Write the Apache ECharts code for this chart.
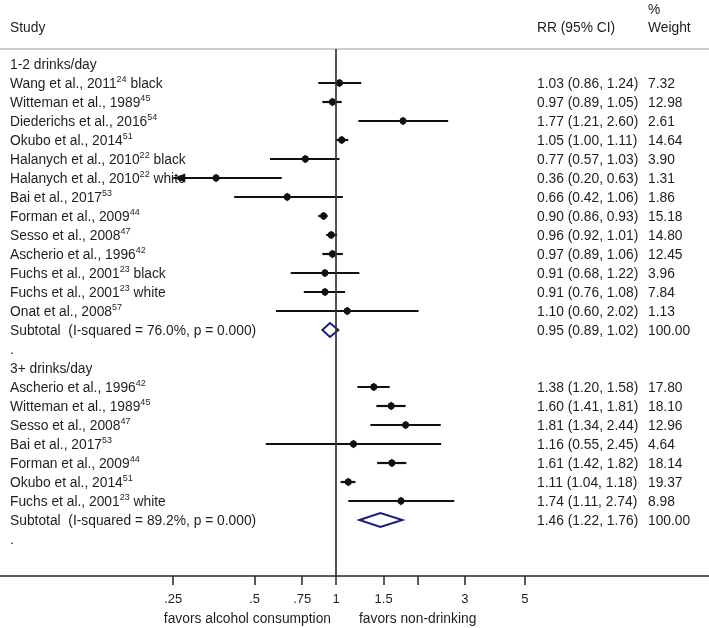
<!DOCTYPE html>
<html><head><meta charset="utf-8">
<script src="https://cdn.jsdelivr.net/npm/echarts@6/dist/echarts.min.js"></script>
<style>html,body{margin:0;padding:0;background:#fff}#c{width:709px;height:628px}</style>
</head><body><div id="c"></div>
<script>
// ---------------- data ----------------
const group1Title = '1-2 drinks/day';
const group1Studies = [
  'Wang et al., 2011{s|24} black',
  'Witteman et al., 1989{s|45}',
  'Diederichs et al., 2016{s|54}',
  'Okubo et al., 2014{s|51}',
  'Halanych et al., 2010{s|22} black',
  'Halanych et al., 2010{s|22} white',
  'Bai et al., 2017{s|53}',
  'Forman et al., 2009{s|44}',
  'Sesso et al., 2008{s|47}',
  'Ascherio et al., 1996{s|42}',
  'Fuchs et al., 2001{s|23} black',
  'Fuchs et al., 2001{s|23} white',
  'Onat et al., 2008{s|57}'
];
const group1RR     = [1.03, 0.97, 1.77, 1.05, 0.77, 0.36, 0.66, 0.90, 0.96, 0.97, 0.91, 0.91, 1.10];
const group1Lo     = [0.86, 0.89, 1.21, 1.00, 0.57, 0.20, 0.42, 0.86, 0.92, 0.89, 0.68, 0.76, 0.60];
const group1Hi     = [1.24, 1.05, 2.60, 1.11, 1.03, 0.63, 1.06, 0.93, 1.01, 1.06, 1.22, 1.08, 2.02];
const group1Weight = [7.32, 12.98, 2.61, 14.64, 3.90, 1.31, 1.86, 15.18, 14.80, 12.45, 3.96, 7.84, 1.13];
const group1Pooled = [0.95, 0.89, 1.02];
const group1Het    = ['76.0%', '0.000'];

const group2Title = '3+ drinks/day';
const group2Studies = [
  'Ascherio et al., 1996{s|42}',
  'Witteman et al., 1989{s|45}',
  'Sesso et al., 2008{s|47}',
  'Bai et al., 2017{s|53}',
  'Forman et al., 2009{s|44}',
  'Okubo et al., 2014{s|51}',
  'Fuchs et al., 2001{s|23} white'
];
const group2RR     = [1.38, 1.60, 1.81, 1.16, 1.61, 1.11, 1.74];
const group2Lo     = [1.20, 1.41, 1.34, 0.55, 1.42, 1.04, 1.11];
const group2Hi     = [1.58, 1.81, 2.44, 2.45, 1.82, 1.18, 2.74];
const group2Weight = [17.80, 18.10, 12.96, 4.64, 18.14, 19.37, 8.98];
const group2Pooled = [1.46, 1.22, 1.76];
const group2Het    = ['89.2%', '0.000'];

const tickValues = [0.25, 0.5, 0.75, 1, 1.5, 2, 3, 5];
const tickLabels = ['.25', '.5', '.75', '1', '1.5', '', '3', '5'];
const displayMin = 0.25;

// ---------------- layout helpers ----------------
const FONT = '"Liberation Sans", Arial, sans-serif';
const FS = 13.8;
const TXT = '#1e1e1e';
const PX_PER_LN = 117.4, ZERO_PX = 336, WIDTH = 709;
const X_MIN = -ZERO_PX / PX_PER_LN, X_MAX = (WIDTH - ZERO_PX) / PX_PER_LN;

const f2 = v => v.toFixed(2);
const rows = [];
function addGroup(title, studies, rr, lo, hi, w, pooled, het) {
  rows.push({kind: 'head', label: title});
  studies.forEach((s, i) => rows.push({kind: 'study', label: s, rr: rr[i], lo: lo[i], hi: hi[i], w: w[i]}));
  rows.push({kind: 'sub', label: 'Subtotal  (I-squared = ' + het[0] + ', p = ' + het[1] + ')',
             rr: pooled[0], lo: pooled[1], hi: pooled[2], w: 100});
  rows.push({kind: 'dot', label: '.'});
}
addGroup(group1Title, group1Studies, group1RR, group1Lo, group1Hi, group1Weight, group1Pooled, group1Het);
addGroup(group2Title, group2Studies, group2RR, group2Lo, group2Hi, group2Weight, group2Pooled, group2Het);

const studyData = [], pooledData = [], textData = [];
rows.forEach((r, i) => {
  textData.push([i]);
  if (r.kind === 'study') studyData.push([i, Math.log(r.rr), Math.log(r.lo), Math.log(r.hi)]);
  if (r.kind === 'sub') pooledData.push([i, Math.log(r.rr), Math.log(r.lo), Math.log(r.hi)]);
});

const rich = {s: {fontSize: 9, fontFamily: FONT, fill: TXT, verticalAlign: 'top', lineHeight: 18}};
const CLIP = Math.log(displayMin);
const hdr = t => ({text: t, font: FS + 'px ' + FONT, fill: TXT});

const chart = echarts.init(document.getElementById('c'), null, {renderer: 'canvas'});
chart.setOption({
  animation: false,
  backgroundColor: '#fff',
  grid: {left: 0, right: 0, top: 49, bottom: 52, containLabel: false},
  xAxis: [{
    type: 'value', min: X_MIN, max: X_MAX, position: 'bottom',
    axisLine: {show: true, onZero: false, lineStyle: {color: '#222', width: 1.5}},
    axisTick: {show: true, length: 9, customValues: tickValues.map(Math.log), lineStyle: {color: '#222', width: 1.5}},
    axisLabel: {
      show: true, margin: 17, fontSize: 13, fontFamily: FONT, color: TXT,
      customValues: tickValues.filter((v, i) => tickLabels[i] !== '').map(Math.log),
      formatter: v => {
        let best = 0;
        tickValues.forEach((t, i) => { if (Math.abs(Math.log(t) - v) < Math.abs(Math.log(tickValues[best]) - v)) best = i; });
        return tickLabels[best];
      }
    },
    splitLine: {show: false}
  }, {
    type: 'value', min: X_MIN, max: X_MAX, position: 'top',
    axisLine: {show: true, onZero: false, lineStyle: {color: '#bdbdbd', width: 1.5}},
    axisTick: {show: false}, axisLabel: {show: false}, splitLine: {show: false}
  }],
  yAxis: {type: 'value', inverse: true, min: -0.789, max: 26.947, show: false},
  graphic: [
    {type: 'text', left: 10, top: 21, style: hdr('Study')},
    {type: 'text', left: 537, top: 21, style: hdr('RR (95% CI)')},
    {type: 'text', left: 648, top: 3, style: hdr('%')},
    {type: 'text', left: 648, top: 21, style: hdr('Weight')},
    {type: 'text', right: 709 - 331, top: 612, style: hdr('favors alcohol consumption')},
    {type: 'text', left: 359, top: 612, style: hdr('favors non-drinking')}
  ],
  series: [{
    type: 'custom', name: 'studies', data: studyData,
    encode: {x: [1, 2, 3], y: 0},
    renderItem: (params, api) => {
      const row = api.value(0), rr = api.value(1), lo = api.value(2), hi = api.value(3);
      const y = api.coord([0, row])[1];
      const xl = api.coord([Math.max(lo, CLIP), row])[0];
      const xh = api.coord([hi, row])[0];
      const xp = api.coord([rr, row])[0];
      const ch = [
        {type: 'line', shape: {x1: xl, y1: y, x2: xh, y2: y}, style: {stroke: '#111', lineWidth: 2.2}},
        {type: 'circle', shape: {cx: xp, cy: y, r: 3.4}, style: {fill: '#111'}},
        {type: 'polygon', shape: {points: [[xp - 4.2, y], [xp, y - 4.2], [xp + 4.2, y], [xp, y + 4.2]]}, style: {fill: '#111'}}
      ];
      if (lo < CLIP) ch.push({type: 'polygon', shape: {points: [[xl, y], [xl + 12, y - 4.5], [xl + 12, y + 4.5]]}, style: {fill: '#111'}});
      return {type: 'group', children: ch};
    },
    markLine: {
      silent: true, symbol: 'none', label: {show: false},
      lineStyle: {color: '#333', width: 1.7, type: 'solid'},
      data: [{xAxis: 0}]
    },
    z: 3
  }, {
    type: 'custom', name: 'pooled', data: pooledData,
    encode: {x: [1, 2, 3], y: 0},
    renderItem: (params, api) => {
      const row = api.value(0);
      const y = api.coord([0, row])[1];
      const xp = api.coord([api.value(1), row])[0];
      const xl = api.coord([api.value(2), row])[0];
      const xh = api.coord([api.value(3), row])[0];
      return {type: 'polygon', shape: {points: [[xl, y], [xp, y - 7], [xh, y], [xp, y + 7]]},
              style: {fill: '#fff', stroke: '#1b1e78', lineWidth: 2}};
    },
    z: 4
  }, {
    type: 'custom', name: 'table', data: textData,
    encode: {y: 0},
    renderItem: (params, api) => {
      const row = api.value(0);
      const r = rows[row];
      const y = api.coord([0, row])[1] + 1;
      const base = {fontSize: FS, fontFamily: FONT, fill: TXT, verticalAlign: 'middle', lineHeight: 18};
      const ch = [{type: 'text', x: 10, y: y, style: Object.assign({text: r.label, rich: rich}, base)}];
      if (r.kind === 'study' || r.kind === 'sub') {
        ch.push({type: 'text', x: 537, y: y, style: Object.assign({text: f2(r.rr) + ' (' + f2(r.lo) + ', ' + f2(r.hi) + ')'}, base)});
        ch.push({type: 'text', x: 648, y: y, style: Object.assign({text: f2(r.w)}, base)});
      }
      return {type: 'group', children: ch};
    },
    z: 2
  }]
});
</script>
</body></html>
